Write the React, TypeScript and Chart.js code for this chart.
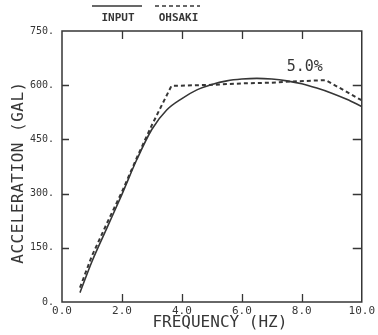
import React, { useEffect, useRef } from "react";
import { Chart, registerables } from "chart.js";

Chart.register(...registerables);

// ---- data ----
const inputFreq = [0.6, 1.0, 1.5, 2.0, 2.5, 3.0, 3.5, 4.0, 4.5, 5.0, 5.5, 6.0, 6.5, 7.0, 7.5, 8.0, 8.5, 9.0, 9.5, 10.0];
const inputAcc = [26, 112, 205, 298, 395, 478, 532, 563, 587, 602, 612, 617, 619, 617, 612, 604, 592, 578, 561, 541];
const ohsakiFreq = [0.6, 1.0, 1.5, 2.0, 2.5, 3.0, 3.65, 5.0, 6.0, 7.0, 7.6, 8.8, 10.0];
const ohsakiAcc = [40, 128, 218, 305, 400, 490, 598, 601, 605, 607, 610, 614, 558];
const xTickValues = [0, 2, 4, 6, 8, 10];
const yTickValues = [0, 150, 300, 450, 600, 750];
const seriesNames = ["INPUT", "OHSAKI"];
const dampingLabel = "5.0%";
const xTitle = "FREQUENCY (HZ)";
const yTitle = "ACCELERATION (GAL)";

const INK = "#363636";
const MONO = '"DejaVu Sans Mono", "Liberation Mono", monospace';

const framePlugin = {
  id: "frameAndDecor",
  afterDraw(chart: any) {
    const { ctx, chartArea: a, scales } = chart;
    const xs = scales.x;
    const ys = scales.y;
    ctx.save();
    ctx.strokeStyle = INK;
    ctx.lineWidth = 1.5;
    ctx.setLineDash([]);
    ctx.strokeRect(a.left, a.top, a.right - a.left, a.bottom - a.top);

    // inward tick marks on all four sides
    ctx.lineWidth = 1.3;
    ctx.beginPath();
    xs.ticks.forEach((t: any) => {
      if (t.value <= xs.min || t.value >= xs.max) return;
      const px = Math.round(xs.getPixelForValue(t.value)) + 0.5;
      ctx.moveTo(px, a.bottom);
      ctx.lineTo(px, a.bottom - 8);
      ctx.moveTo(px, a.top);
      ctx.lineTo(px, a.top + 8);
    });
    ys.ticks.forEach((t: any) => {
      if (t.value <= ys.min || t.value >= ys.max) return;
      const py = Math.round(ys.getPixelForValue(t.value)) + 0.5;
      ctx.moveTo(a.left, py);
      ctx.lineTo(a.left + 7, py);
      ctx.moveTo(a.right, py);
      ctx.lineTo(a.right - 9, py);
    });
    ctx.stroke();

    // legend above the plot
    const legendY = 6;
    const items = [
      { name: seriesNames[0], x0: 92, x1: 142, dash: [] as number[] },
      { name: seriesNames[1], x0: 155, x1: 200, dash: [4, 3] },
    ];
    ctx.font = `bold 11px ${MONO}`;
    ctx.fillStyle = INK;
    ctx.textAlign = "center";
    ctx.textBaseline = "middle";
    items.forEach((it) => {
      ctx.beginPath();
      ctx.lineWidth = 1.5;
      ctx.setLineDash(it.dash);
      ctx.moveTo(it.x0, legendY);
      ctx.lineTo(it.x1, legendY);
      ctx.stroke();
      ctx.setLineDash([]);
      ctx.fillText(it.name, (it.x0 + it.x1) / 2 + 1, 18);
    });

    // damping annotation
    ctx.font = `15px ${MONO}`;
    ctx.fillText(dampingLabel, xs.getPixelForValue(8.1), ys.getPixelForValue(650));

    // axis titles
    ctx.font = `16px ${MONO}`;
    ctx.fillText(xTitle, (a.left + a.right) / 2 + 8, 323);
    ctx.save();
    ctx.translate(19, (a.top + a.bottom) / 2 + 6);
    ctx.rotate(-Math.PI / 2);
    try {
      (ctx as any).letterSpacing = "0.5px";
    } catch (e) {}
    ctx.fillText(yTitle, 0, 0);
    ctx.restore();
    ctx.restore();
  },
};

export default function App() {
  const ref = useRef<HTMLCanvasElement | null>(null);

  useEffect(() => {
    if (!ref.current) return;
    const chart = new Chart(ref.current, {
      type: "line",
      data: {
        datasets: [
          {
            label: seriesNames[0],
            data: inputFreq.map((f, i) => ({ x: f, y: inputAcc[i] })),
            borderColor: INK,
            borderWidth: 1.6,
            pointRadius: 0,
            cubicInterpolationMode: "monotone",
            fill: false,
          },
          {
            label: seriesNames[1],
            data: ohsakiFreq.map((f, i) => ({ x: f, y: ohsakiAcc[i] })),
            borderColor: INK,
            borderWidth: 2,
            borderDash: [4, 3],
            pointRadius: 0,
            tension: 0,
            fill: false,
          },
        ],
      },
      options: {
        animation: false,
        responsive: false,
        devicePixelRatio: 1,
        layout: { padding: { top: 31, right: 14, left: 0, bottom: 0 } },
        plugins: { legend: { display: false }, tooltip: { enabled: false } },
        scales: {
          x: {
            type: "linear",
            min: 0,
            max: 10,
            afterBuildTicks: (s: any) => {
              s.ticks = xTickValues.map((v) => ({ value: v }));
            },
            afterFit: (s: any) => {
              s.height = 33;
            },
            ticks: {
              callback: (v: any) => Number(v).toFixed(1),
              font: { family: MONO, size: 11 },
              color: INK,
              padding: 3,
              maxRotation: 0,
              autoSkip: false,
            },
            grid: { display: false, drawTicks: false },
            border: { display: false },
            title: { display: false },
          },
          y: {
            type: "linear",
            min: 0,
            max: 750,
            afterBuildTicks: (s: any) => {
              s.ticks = yTickValues.map((v) => ({ value: v }));
            },
            afterFit: (s: any) => {
              s.width = 62;
            },
            ticks: {
              callback: (v: any) => `${v}.`,
              font: { family: MONO, size: 10 },
              color: INK,
              padding: 8,
              autoSkip: false,
            },
            grid: { display: false, drawTicks: false },
            border: { display: false },
            title: { display: false },
          },
        },
      },
      plugins: [framePlugin],
    } as any);
    return () => chart.destroy();
  }, []);

  return (
    <div style={{ position: "absolute", left: 0, top: 0, width: 378, height: 335, background: "#fff" }}>
      <canvas ref={ref} width={378} height={335} style={{ display: "block" }} />
    </div>
  );
}
